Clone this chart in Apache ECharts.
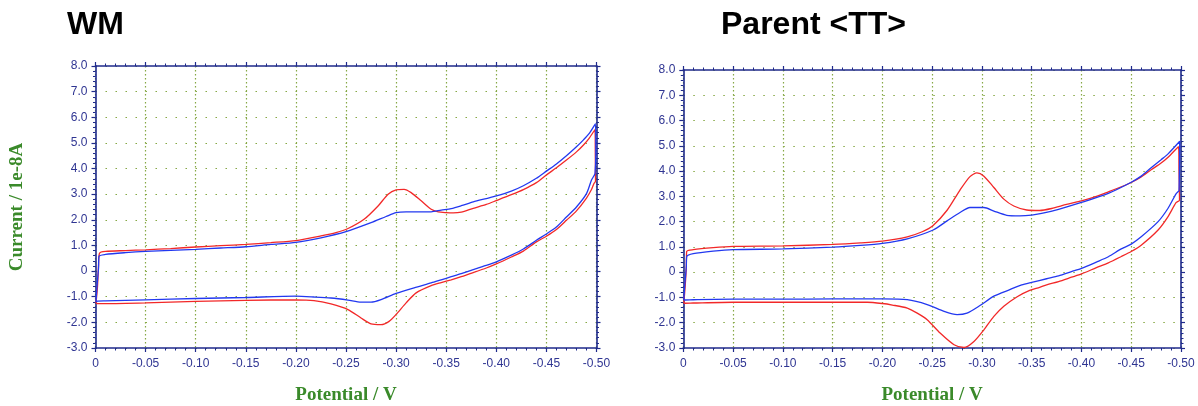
<!DOCTYPE html>
<html>
<head>
<meta charset="utf-8">
<script src="https://cdn.jsdelivr.net/npm/echarts@6/dist/echarts.min.js"></script>
<style>
html,body{margin:0;padding:0;background:#fff;}
#c{width:1198px;height:406px;}
</style>
</head>
<body>
<div id="c"></div>
<script>
// ---- tick labels / axes ----
const xTicks = [0, -0.05, -0.10, -0.15, -0.20, -0.25, -0.30, -0.35, -0.40, -0.45, -0.50];
const yTicks = [-3, -2, -1, 0, 1, 2, 3, 4, 5, 6, 7, 8];
const panelTitles = ['WM', 'Parent <TT>'];
const xName = 'Potential / V';
const yName = 'Current / 1e-8A';

// ---- WM panel: [potential V, current 1e-8A] ----
const wmRedFwd = [[-0.0005,-1.25],[-0.002,-0.6],[-0.003,0.2],[-0.004,0.70],[-0.01,0.77],[-0.03,0.80],[-0.05,0.83],[-0.075,0.88],[-0.10,0.94],[-0.125,0.99],[-0.15,1.04],[-0.175,1.11],[-0.20,1.19],[-0.225,1.37],[-0.24,1.50],[-0.252,1.66],[-0.268,2.02],[-0.282,2.54],[-0.292,3.0],[-0.30,3.17],[-0.308,3.19],[-0.315,3.06],[-0.325,2.74],[-0.335,2.41],[-0.342,2.31],[-0.35,2.28],[-0.357,2.27],[-0.365,2.30],[-0.377,2.45],[-0.39,2.60],[-0.40,2.75],[-0.415,2.98],[-0.427,3.18],[-0.44,3.45],[-0.45,3.75],[-0.46,4.03],[-0.47,4.33],[-0.48,4.65],[-0.487,4.92],[-0.493,5.20],[-0.4985,5.52],[-0.4988,4.5],[-0.499,3.5]];
const wmRedRev = [[-0.4975,3.42],[-0.495,3.18],[-0.49,2.85],[-0.48,2.35],[-0.47,1.98],[-0.46,1.62],[-0.45,1.36],[-0.44,1.14],[-0.427,0.78],[-0.415,0.55],[-0.40,0.28],[-0.39,0.12],[-0.377,-0.06],[-0.365,-0.22],[-0.355,-0.34],[-0.345,-0.45],[-0.335,-0.57],[-0.32,-0.85],[-0.31,-1.24],[-0.30,-1.69],[-0.293,-1.96],[-0.285,-2.09],[-0.275,-2.06],[-0.265,-1.83],[-0.252,-1.50],[-0.235,-1.28],[-0.218,-1.15],[-0.20,-1.12],[-0.15,-1.14],[-0.10,-1.18],[-0.05,-1.24],[-0.01,-1.27],[-0.002,-1.27],[-0.0005,-1.25]];
const wmBlueFwd = [[-0.0005,-1.2],[-0.0015,-0.6],[-0.003,0.1],[-0.0035,0.58],[-0.01,0.65],[-0.03,0.72],[-0.05,0.77],[-0.075,0.81],[-0.10,0.85],[-0.125,0.90],[-0.15,0.95],[-0.175,1.04],[-0.20,1.12],[-0.225,1.30],[-0.25,1.54],[-0.275,1.89],[-0.29,2.13],[-0.30,2.28],[-0.31,2.31],[-0.32,2.31],[-0.335,2.31],[-0.345,2.38],[-0.355,2.44],[-0.365,2.55],[-0.377,2.70],[-0.39,2.83],[-0.40,2.93],[-0.415,3.12],[-0.427,3.33],[-0.44,3.62],[-0.45,3.90],[-0.46,4.18],[-0.47,4.50],[-0.48,4.85],[-0.487,5.12],[-0.493,5.38],[-0.499,5.75],[-0.4993,4.6],[-0.4985,3.8]];
const wmBlueRev = [[-0.4975,3.72],[-0.495,3.55],[-0.49,3.02],[-0.48,2.50],[-0.47,2.11],[-0.46,1.72],[-0.45,1.45],[-0.44,1.20],[-0.427,0.86],[-0.415,0.62],[-0.40,0.36],[-0.39,0.22],[-0.377,0.06],[-0.365,-0.10],[-0.355,-0.22],[-0.345,-0.34],[-0.335,-0.46],[-0.318,-0.65],[-0.30,-0.87],[-0.285,-1.11],[-0.275,-1.21],[-0.265,-1.21],[-0.252,-1.13],[-0.235,-1.05],[-0.218,-1.01],[-0.20,-0.98],[-0.15,-1.03],[-0.10,-1.07],[-0.05,-1.12],[-0.01,-1.16],[-0.002,-1.17],[-0.0005,-1.2]];

// ---- Parent <TT> panel ----
const ttRedFwd = [[-0.0005,-1.23],[-0.002,-0.5],[-0.003,0.2],[-0.0034,0.82],[-0.01,0.89],[-0.03,0.97],[-0.05,1.02],[-0.10,1.04],[-0.15,1.10],[-0.178,1.16],[-0.20,1.23],[-0.225,1.40],[-0.24,1.60],[-0.251,1.85],[-0.265,2.45],[-0.278,3.25],[-0.288,3.78],[-0.295,3.93],[-0.302,3.80],[-0.312,3.35],[-0.322,2.89],[-0.332,2.62],[-0.345,2.46],[-0.358,2.44],[-0.37,2.52],[-0.385,2.68],[-0.40,2.82],[-0.415,3.00],[-0.427,3.18],[-0.44,3.38],[-0.45,3.55],[-0.46,3.77],[-0.47,4.05],[-0.48,4.32],[-0.487,4.55],[-0.4975,4.97],[-0.498,4.0],[-0.4985,2.85]];
const ttRedRev = [[-0.495,2.75],[-0.487,2.20],[-0.477,1.67],[-0.46,1.07],[-0.45,0.82],[-0.44,0.62],[-0.427,0.37],[-0.415,0.18],[-0.40,-0.07],[-0.39,-0.20],[-0.377,-0.37],[-0.365,-0.50],[-0.358,-0.60],[-0.348,-0.72],[-0.335,-0.98],[-0.322,-1.35],[-0.312,-1.75],[-0.302,-2.28],[-0.292,-2.74],[-0.282,-2.98],[-0.272,-2.87],[-0.258,-2.41],[-0.245,-1.88],[-0.235,-1.62],[-0.225,-1.42],[-0.21,-1.30],[-0.20,-1.24],[-0.185,-1.19],[-0.15,-1.19],[-0.10,-1.19],[-0.05,-1.19],[-0.01,-1.22],[-0.002,-1.23],[-0.0005,-1.23]];
const ttBlueFwd = [[-0.0005,-1.1],[-0.0015,-0.5],[-0.003,0.2],[-0.0035,0.62],[-0.01,0.73],[-0.03,0.83],[-0.05,0.89],[-0.10,0.92],[-0.15,0.99],[-0.178,1.06],[-0.20,1.14],[-0.225,1.32],[-0.251,1.67],[-0.265,2.03],[-0.278,2.36],[-0.288,2.56],[-0.302,2.56],[-0.312,2.42],[-0.325,2.25],[-0.338,2.23],[-0.35,2.26],[-0.36,2.33],[-0.377,2.49],[-0.40,2.76],[-0.427,3.12],[-0.45,3.56],[-0.46,3.80],[-0.47,4.13],[-0.48,4.45],[-0.487,4.68],[-0.4987,5.18],[-0.4985,4.2],[-0.498,3.22]];
const ttBlueRev = [[-0.4975,3.2],[-0.495,3.1],[-0.487,2.53],[-0.477,2.0],[-0.46,1.40],[-0.45,1.11],[-0.44,0.92],[-0.427,0.61],[-0.415,0.40],[-0.40,0.15],[-0.39,0.02],[-0.377,-0.15],[-0.365,-0.26],[-0.35,-0.40],[-0.34,-0.50],[-0.328,-0.69],[-0.312,-0.95],[-0.298,-1.32],[-0.285,-1.62],[-0.275,-1.68],[-0.262,-1.55],[-0.245,-1.28],[-0.225,-1.09],[-0.20,-1.06],[-0.15,-1.06],[-0.10,-1.07],[-0.05,-1.07],[-0.01,-1.09],[-0.002,-1.10],[-0.0005,-1.10]];

// ---- styling ----
const AXIS_COLOR = '#1f2a8c';
const LABEL_COLOR = '#2f3592';
const GRID_COLOR = '#86a845';
const NAME_COLOR = '#3a8a2a';
const RED = '#f22828';
const BLUE = '#2238f0';

const xMin = Math.min(...xTicks), xMax = Math.max(...xTicks);
const yMin = Math.min(...yTicks), yMax = Math.max(...yTicks);

const grids = [
  {left: 95.5, top: 66, width: 501, height: 282},
  {left: 683.3, top: 70, width: 497.7, height: 278}
];

function xFmt(v){ return Math.abs(v) < 1e-9 ? '0' : v.toFixed(2); }
function yFmt(v){ return Math.abs(v) < 1e-9 ? '0' : v.toFixed(1); }

const xAxes = [], yAxes = [];
grids.forEach((g, i) => {
  const common = {
    type: 'value', gridIndex: i, inverse: true, min: xMin, max: xMax, interval: 0.05,
    axisLine: {show: true, onZero: false, lineStyle: {color: AXIS_COLOR, width: 1.6}},
    axisTick: {show: true, inside: false, length: 4, lineStyle: {color: AXIS_COLOR, width: 1.2}},
    minorTick: {show: true, splitNumber: 5, length: 2.5, lineStyle: {color: AXIS_COLOR, width: 1}}
  };
  xAxes.push(Object.assign({}, common, {
    position: 'bottom',
    name: xName, nameLocation: 'middle', nameGap: 38,
    nameTextStyle: {color: NAME_COLOR, fontFamily: '"Liberation Serif","Times New Roman",serif', fontWeight: 'bold', fontSize: 19},
    axisLabel: {show: true, color: LABEL_COLOR, fontFamily: '"Liberation Sans",Arial,sans-serif', fontSize: 12, margin: 10, formatter: xFmt},
    splitLine: {show: true, lineStyle: {color: GRID_COLOR, width: 1.2, type: [1.5, 2.5]}}
  }));
  xAxes.push(Object.assign({}, common, {
    position: 'top', axisLabel: {show: false}, splitLine: {show: false}
  }));
  const ycommon = {
    type: 'value', gridIndex: i, min: yMin, max: yMax, interval: 1,
    axisLine: {show: true, onZero: false, lineStyle: {color: AXIS_COLOR, width: 1.6}},
    axisTick: {show: true, inside: false, length: 4, lineStyle: {color: AXIS_COLOR, width: 1.2}},
    minorTick: {show: true, splitNumber: 5, length: 2.5, lineStyle: {color: AXIS_COLOR, width: 1}}
  };
  yAxes.push(Object.assign({}, ycommon, {
    position: 'left',
    name: i === 0 ? yName : '', nameLocation: 'middle', nameGap: 69, nameRotate: 90,
    nameTextStyle: {color: NAME_COLOR, fontFamily: '"Liberation Serif","Times New Roman",serif', fontWeight: 'bold', fontSize: 19},
    axisLabel: {show: true, color: LABEL_COLOR, fontFamily: '"Liberation Sans",Arial,sans-serif', fontSize: 12, margin: 8, formatter: yFmt},
    splitLine: {show: true, lineStyle: {color: GRID_COLOR, width: 1.2, type: [1.5, 8.5]}}
  }));
  yAxes.push(Object.assign({}, ycommon, {
    position: 'right', axisLabel: {show: false}, splitLine: {show: false}
  }));
});

function line(data, color, gi){
  return {
    type: 'line', data: data, xAxisIndex: gi * 2, yAxisIndex: gi * 2,
    showSymbol: false, symbol: 'none', smooth: 0.25, clip: false, animation: false,
    lineStyle: {color: color, width: 1.3}, z: color === BLUE ? 4 : 3
  };
}

const series = [
  line(wmRedFwd.concat(wmRedRev), RED, 0),
  line(wmBlueFwd.concat(wmBlueRev), BLUE, 0),
  line(ttRedFwd.concat(ttRedRev), RED, 1),
  line(ttBlueFwd.concat(ttBlueRev), BLUE, 1)
];

const chart = echarts.init(document.getElementById('c'), null, {renderer: 'canvas'});
chart.setOption({
  animation: false,
  backgroundColor: '#ffffff',
  grid: grids.map(g => Object.assign({outerBoundsMode: 'none', containLabel: false}, g)),
  xAxis: xAxes,
  yAxis: yAxes,
  series: series,
  graphic: [
    {type: 'text', left: 67, top: 9, style: {text: panelTitles[0], font: 'bold 32px "Liberation Sans", Arial, sans-serif', fill: '#000'}},
    {type: 'text', left: 721, top: 9, style: {text: panelTitles[1], font: 'bold 32px "Liberation Sans", Arial, sans-serif', fill: '#000'}}
  ]
});
</script>
</body>
</html>
